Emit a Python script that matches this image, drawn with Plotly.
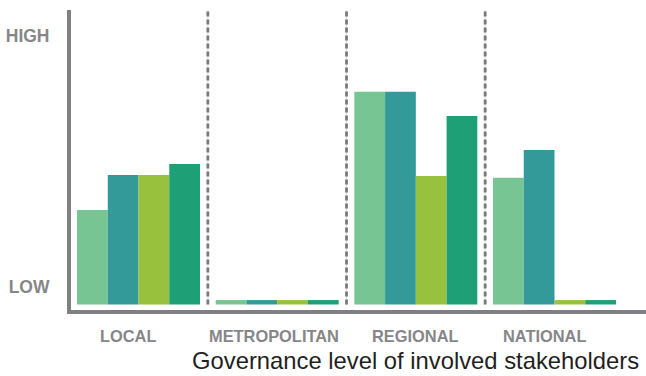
import plotly.graph_objects as go

categories = ["LOCAL", "METROPOLITAN", "REGIONAL", "NATIONAL"]
series_1 = [3.21, 0.15, 7.22, 4.30]
series_2 = [4.40, 0.15, 7.22, 5.25]
series_3 = [4.40, 0.15, 4.36, 0.15]
series_4 = [4.77, 0.15, 6.40, 0.15]
y_tick_vals = [0.59, 9.11]
y_tick_text = ["LOW", "HIGH"]
x_title = "Governance level of involved stakeholders"

colors = ["#76C593", "#339999", "#98C23D", "#1E9F76"]
label_shifts = [-11, -3, 0, -9.5]

fig = go.Figure()
for vals, col in zip([series_1, series_2, series_3, series_4], colors):
    fig.add_trace(go.Bar(x=categories, y=vals, marker=dict(color=col, line=dict(width=0)),
                         showlegend=False, hoverinfo="skip"))

# dashed separators between categories
for i in range(len(categories) - 1):
    xpos = i + 0.5
    fig.add_shape(type="line", xref="x", yref="y", x0=xpos, x1=xpos, y0=0, y1=10,
                  line=dict(color="#d9d9d9", width=1), layer="below")
    fig.add_shape(type="line", xref="x", yref="y", x0=xpos, x1=xpos, y0=0, y1=10,
                  line=dict(color="#7a7a7e", width=2.8, dash="5px,3px"), layer="below")

# category labels
for i, (cat, sh) in enumerate(zip(categories, label_shifts)):
    fig.add_annotation(x=cat, xref="x", y=-0.0867, yref="paper", text=cat, showarrow=False,
                       xshift=sh, xanchor="center", yanchor="middle",
                       font=dict(family="Liberation Sans", size=16.4, color="#868688", weight="bold"))

fig.add_annotation(x=0.2087, xref="paper", y=-0.168, yref="paper", text=x_title,
                   showarrow=False, xanchor="left", yanchor="middle", borderpad=0,
                   font=dict(family="Liberation Sans", size=23.8, color="#231f20"))

fig.update_layout(
    width=646, height=376,
    margin=dict(l=71, r=0, t=10, b=66),
    plot_bgcolor="white", paper_bgcolor="white",
    barmode="group", bargap=0.113, bargroupgap=0,
    xaxis=dict(type="category", categoryorder="array", categoryarray=categories,
               range=[-0.487, 3.66], showticklabels=False, ticks="", showgrid=False,
               zeroline=False, showline=True, linecolor="#808084", linewidth=4),
    yaxis=dict(range=[-0.187, 10], tickvals=y_tick_vals, ticktext=y_tick_text, ticks="",
               showgrid=False, zeroline=False, showline=True, linecolor="#808084", linewidth=4,
               ticklabelstandoff=14,
               tickfont=dict(family="Liberation Sans", size=17.5, color="#868688", weight="bold")),
)

fig.write_html("out.html")
